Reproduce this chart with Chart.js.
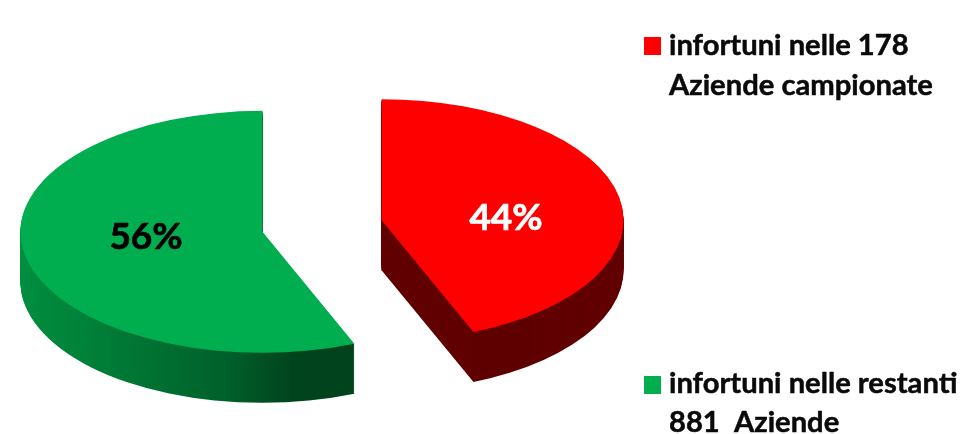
<!DOCTYPE html>
<html><head><meta charset="utf-8">
<style>html,body{margin:0;padding:0;background:#fff;overflow:hidden}canvas{display:block}</style>
<script src="https://cdn.jsdelivr.net/npm/chart.js@4"></script></head>
<body><canvas id="c" width="968" height="434"></canvas>
<script>
const categories = ['infortuni nelle 178 Aziende campionate', 'infortuni nelle restanti 881 Aziende'];
const shares = [43.8, 56.2];
const valueLabels = ['44%', '56%'];
const sliceColors = ['#ff0000', '#00ae4f'];
const legendLines = [['infortuni nelle 178', 'Aziende campionate'], ['infortuni nelle restanti', '881  Aziende']];
const labelColors = ['#ffffff', '#000000'];

const SQUASH = 0.5, DEPTH = 50, EXPLODE = 60.7, FONT = '"Lato","Open Sans",sans-serif';
const pie3d = {
  id: 'pie3d',
  beforeDatasetsDraw(chart) {
    const ctx = chart.ctx, els = chart.getDatasetMeta(0).data;
    const cy = (chart.chartArea.top + chart.chartArea.bottom) / 2;
    const greenWall = ctx.createLinearGradient(20, 0, 353, 0);
    greenWall.addColorStop(0, '#009a45');
    greenWall.addColorStop(0.4, '#007f38');
    greenWall.addColorStop(0.8, '#00602a');
    greenWall.addColorStop(1, '#00431d');
    const walls = ['#600000', greenWall];
    const place = (el, d) => {
      const mid = (el.startAngle + el.endAngle) / 2;
      ctx.translate(0, cy + d);
      ctx.scale(1, SQUASH);
      ctx.translate(Math.cos(mid) * EXPLODE, -cy + Math.sin(mid) * EXPLODE);
    };
    els.forEach((el, i) => {
      const base = el.options;
      el.options = Object.assign({}, base, {backgroundColor: walls[i], borderWidth: 0});
      for (let d = DEPTH; d >= 1; d--) {
        ctx.save();
        place(el, d);
        el.draw(ctx);
        ctx.restore();
      }
      el.options = base;
    });
    els.forEach(el => {
      ctx.save();
      place(el, 0);
      el.draw(ctx);
      ctx.restore();
    });
    return false;
  },
  afterDraw(chart) {
    const ctx = chart.ctx;
    ctx.save();
    ctx.textBaseline = 'alphabetic';
    ctx.textAlign = 'center';
    ctx.lineJoin = 'round';
    ctx.font = '700 37px ' + FONT;
    ctx.lineWidth = 0.7;
    const lx = [506, 146], ly = [230, 249];
    valueLabels.forEach((t, i) => {
      ctx.fillStyle = ctx.strokeStyle = labelColors[i];
      ctx.fillText(t, lx[i], ly[i]);
      ctx.strokeText(t, lx[i], ly[i]);
    });
    ctx.textAlign = 'left';
    ctx.font = '700 29.2px ' + FONT;
    ctx.lineWidth = 0.5;
    const sq = [37, 376], base = [[55, 95], [393, 432]];
    legendLines.forEach((lines, i) => {
      ctx.fillStyle = sliceColors[i];
      ctx.fillRect(644, sq[i], 17, 18);
      ctx.fillStyle = ctx.strokeStyle = '#0a0a0a';
      lines.forEach((t, j) => {
        ctx.fillText(t, 669, base[i][j]);
        ctx.strokeText(t, 669, base[i][j]);
      });
    });
    ctx.restore();
  }
};
new Chart(document.getElementById('c'), {
  type: 'pie',
  data: {labels: categories, datasets: [{data: shares, backgroundColor: sliceColors, borderWidth: 0, clip: false}]},
  options: {
    responsive: false, animation: false, radius: 242,
    layout: {padding: {top: 18, right: 324}},
    events: [],
    plugins: {legend: {display: false}, tooltip: {enabled: false}}
  },
  plugins: [pie3d]
});
</script></body></html>
